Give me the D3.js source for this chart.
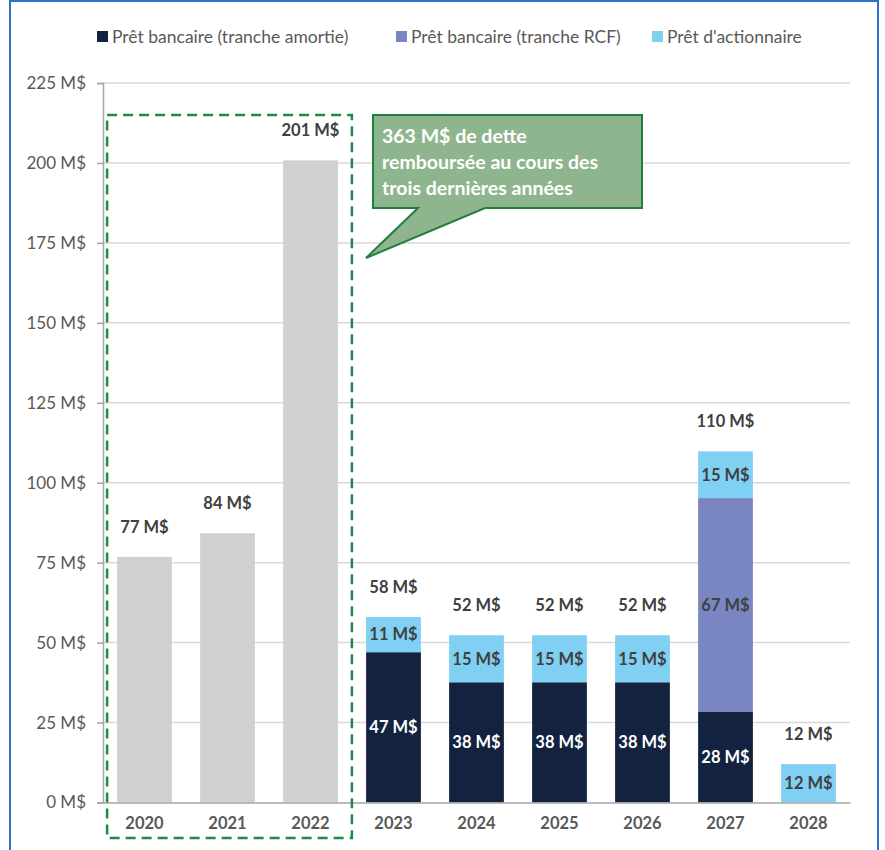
<!DOCTYPE html>
<html><head><meta charset="utf-8">
<script src="https://cdn.jsdelivr.net/npm/d3@7"></script>
<style>body{margin:0;background:#fff}svg{display:block}text{font-family:Lato,"Open Sans",sans-serif}</style>
</head><body>
<svg id="c" width="885" height="850"></svg>
<script>
const years = ["2020","2021","2022","2023","2024","2025","2026","2027","2028"];
const historique = [76.8, 84.2, 200.8, 0, 0, 0, 0, 0, 0];
const trancheAmortie = [0, 0, 0, 47.0, 37.6, 37.6, 37.6, 28.3, 0];
const trancheRCF = [0, 0, 0, 0, 0, 0, 0, 66.9, 0];
const actionnaire = [0, 0, 0, 11.0, 14.7, 14.7, 14.7, 14.6, 12.0];
const yTicks = [0, 25, 50, 75, 100, 125, 150, 175, 200, 225];
const legendLabels = ["Prêt bancaire (tranche amortie)", "Prêt bancaire (tranche RCF)", "Prêt d'actionnaire"];
const calloutLines = ["363 M$ de dette", "remboursée au cours des", "trois dernières années"];

(function(){
const colors = {hist:"#d0d0d0", am:"#13233f", rcf:"#7986c1", act:"#80d0f3"};
const svg = d3.select("#c");
const pLeft = 103, pRight = 850, pTop = 83, pBottom = 802.5;

// border
svg.append("rect").attr("x",10).attr("y",1).attr("width",868).attr("height",900)
  .attr("fill","none").attr("stroke","#2f72c9").attr("stroke-width",2);

const x = d3.scaleBand().domain(years).range([pLeft,pRight]).paddingInner(0.34).paddingOuter(0.17);
const y = d3.scaleLinear().domain([0,225]).range([pBottom,pTop]);

// grid
svg.append("g").selectAll("line").data(yTicks.filter(d=>d>0)).join("line")
  .attr("x1",pLeft).attr("x2",pRight).attr("y1",d=>y(d)).attr("y2",d=>y(d))
  .attr("stroke","#d9d9d9").attr("stroke-width",1.5);

// y axis
const yAxis = svg.append("g").attr("transform",`translate(${pLeft},0)`)
  .call(d3.axisLeft(y).tickValues(yTicks).tickSize(6).tickPadding(11).tickFormat(d=>d+" M$"));
yAxis.select(".domain").attr("stroke","#a6a6a6").attr("stroke-width",1.5);
yAxis.selectAll(".tick line").attr("stroke","#a6a6a6").attr("stroke-width",1.5);
yAxis.selectAll("text").attr("fill","#595959").style("font-size","17px").style("font-family","Lato, sans-serif");

// stacks
const rows = years.map((yr,i)=>({year:yr, hist:historique[i], am:trancheAmortie[i], rcf:trancheRCF[i], act:actionnaire[i]}));
const keys = ["hist","am","rcf","act"];
const stack = d3.stack().keys(keys)(rows);
const bars = svg.append("g");
stack.forEach(layer=>{
  bars.selectAll(null).data(layer.filter(d=>d[1]-d[0]>0)).join("rect")
    .attr("x",d=>x(d.data.year)).attr("width",x.bandwidth())
    .attr("y",d=>y(d[1])).attr("height",d=>y(d[0])-y(d[1]))
    .attr("fill",colors[layer.key]);
});

// x axis
const xAxis = svg.append("g").attr("transform",`translate(0,${pBottom})`)
  .call(d3.axisBottom(x).tickSize(0).tickPadding(15));
xAxis.select(".domain").attr("stroke","#a6a6a6").attr("stroke-width",1.5);
xAxis.selectAll("text").attr("fill","#595959").style("font-size","16.5px").style("font-weight","bold").style("font-family","Lato, sans-serif");

// segment labels (stacked only)
const segColor = {am:"#ffffff", rcf:"#404040", act:"#404040"};
stack.filter(l=>l.key!=="hist").forEach(layer=>{
  svg.append("g").selectAll("text").data(layer.filter(d=>d[1]-d[0]>0)).join("text")
    .attr("x",d=>x(d.data.year)+x.bandwidth()/2).attr("y",d=>(y(d[0])+y(d[1]))/2)
    .attr("dy","0.35em").attr("text-anchor","middle")
    .attr("fill",segColor[layer.key]).style("font-size","16.5px").style("font-weight","bold")
    .text(d=>Math.round(d[1]-d[0])+" M$");
});

// totals
svg.append("g").selectAll("text").data(rows).join("text")
  .attr("x",d=>x(d.year)+x.bandwidth()/2)
  .attr("y",d=>y(d.hist+d.am+d.rcf+d.act)-30)
  .attr("dy","0.35em").attr("text-anchor","middle")
  .attr("fill","#404040").style("font-size","16.5px").style("font-weight","bold")
  .text(d=>Math.round(d.hist+d.am+d.rcf+d.act)+" M$");

// dashed rectangle around historical years
svg.append("rect").attr("x",x("2020")-10).attr("y",115)
  .attr("width",(x("2022")+x.bandwidth()+14)-(x("2020")-10)).attr("height",838-115)
  .attr("fill","none").attr("stroke","#1f8a46").attr("stroke-width",2.5).attr("stroke-dasharray","10,6");

// callout
const cx0=373, cx1=642, cy0=115, cy1=208;
svg.append("path")
  .attr("d",`M${cx0},${cy0} L${cx1},${cy0} L${cx1},${cy1} L485,${cy1} L366,258 L418,${cy1} L${cx0},${cy1} Z`)
  .attr("fill","#8fb58f").attr("stroke","#1f7f3f").attr("stroke-width",2);
svg.append("g").selectAll("text").data(calloutLines).join("text")
  .attr("x",382).attr("y",(d,i)=>136+i*26).attr("dy","0.35em")
  .attr("fill","#ffffff").style("font-size","19.5px").style("font-weight","bold").text(d=>d);

// legend
const legendX = [97, 396, 652];
const lg = svg.append("g");
legendLabels.forEach((t,i)=>{
  lg.append("rect").attr("x",legendX[i]).attr("y",31).attr("width",11).attr("height",11)
    .attr("fill",[colors.am,colors.rcf,colors.act][i]);
  lg.append("text").attr("x",legendX[i]+15).attr("y",36.5).attr("dy","0.35em")
    .attr("fill","#595959").style("font-size","17.5px").text(t);
});
})();
</script>
</body></html>
